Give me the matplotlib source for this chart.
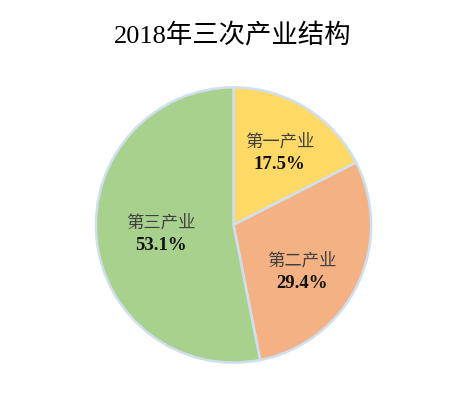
import matplotlib
matplotlib.use("Agg")
import matplotlib.pyplot as plt

categories = ["第一产业", "第二产业", "第三产业"]
values = [17.5, 29.4, 53.1]
colors = ["#FFD966", "#F4B183", "#A9D18E"]
title = "2018年三次产业结构"
# label positions (x, y) in pie-radius units
label_pos = [(0.335, 0.525), (0.495, -0.34), (-0.53, -0.065)]

W, H = 467, 404
fig = plt.figure(figsize=(W / 100, H / 100), dpi=100)
cx, cy, r = 233.5, 404 - 225, 139
ax = fig.add_axes([(cx - r) / W, (cy - r) / H, 2 * r / W, 2 * r / H])
ax.pie(values, colors=colors, startangle=90, counterclock=False, radius=1,
       wedgeprops=dict(edgecolor="#D0DFF0", linewidth=1.8))
ax.set_xlim(-1.01, 1.01)
ax.set_ylim(-1.01, 1.01)
ax.set_aspect("equal")
ax.axis("off")

fam_cn = ["Noto Sans CJK SC", "DejaVu Sans"]
fam_num = ["Liberation Serif", "Noto Sans CJK SC"]
for cat, v, (x, y) in zip(categories, values, label_pos):
    ax.text(x, y + 0.083, cat, ha="center", va="center", fontsize=12.5,
            color="#404040", family=fam_cn)
    ax.text(x, y - 0.083, f"{v}%", ha="center", va="center", fontsize=13.5,
            fontweight="bold", color="#111111", family=fam_num)

fig.text(233 / W, 1 - 36 / H, title, ha="center", va="center", fontsize=19,
         color="#000000", family=fam_num)
fig.savefig("out.png", dpi=100, facecolor="white")
